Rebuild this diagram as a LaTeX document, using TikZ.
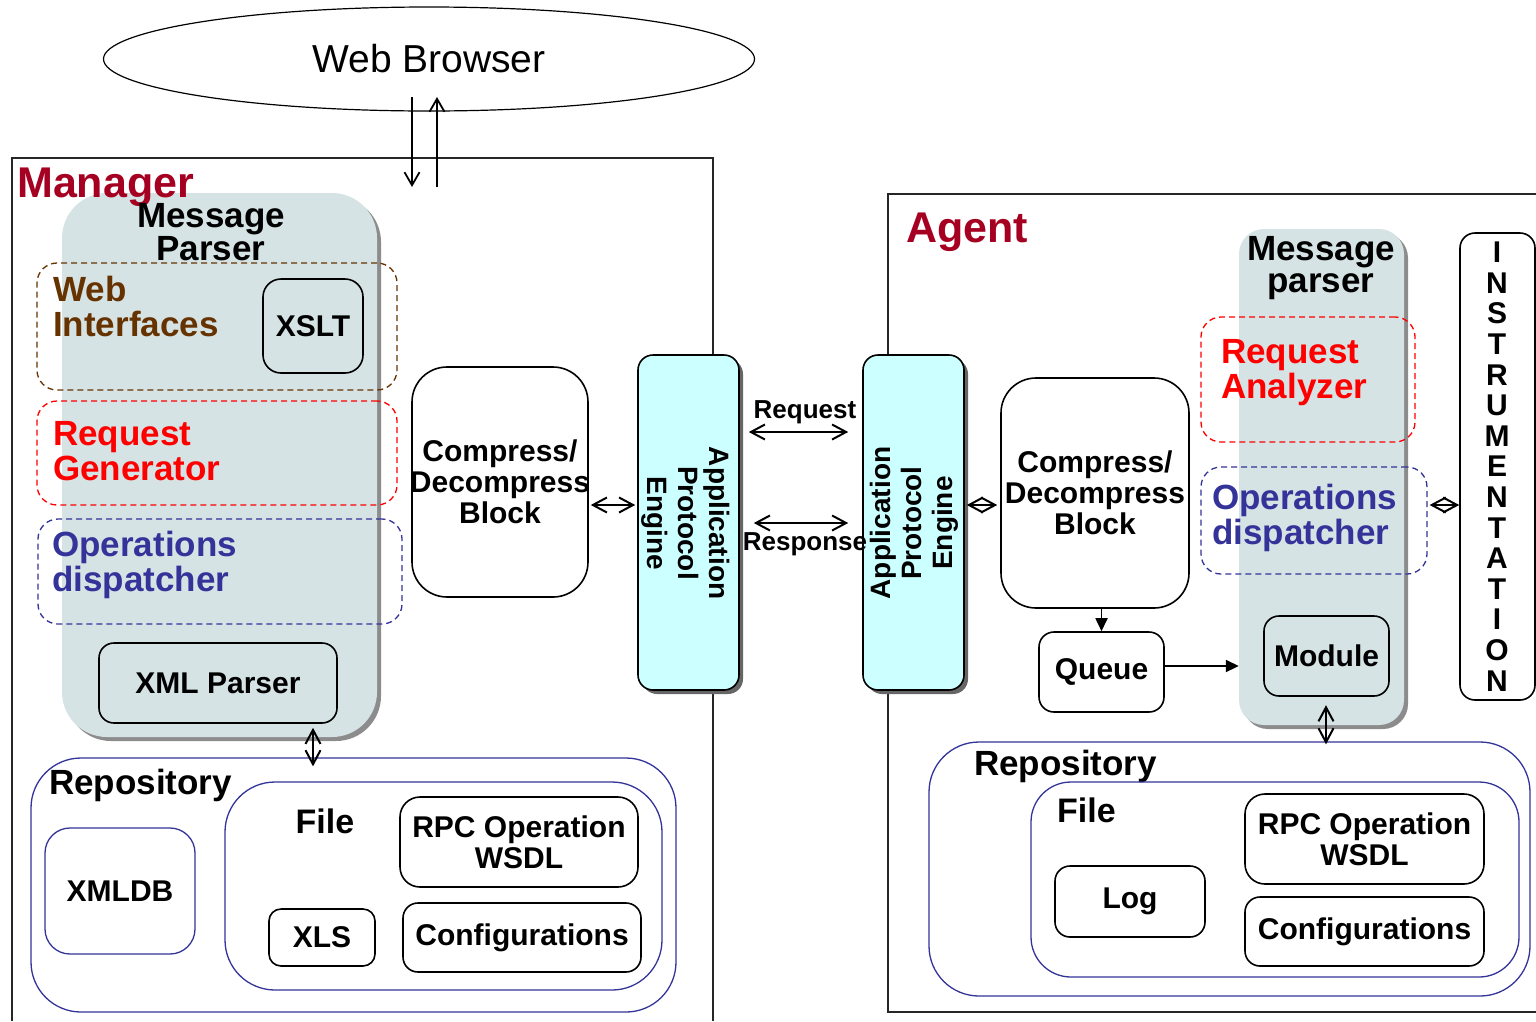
\documentclass[tikz,border=0pt]{standalone}
\usepackage{fontspec}
\setmainfont{Liberation Sans}
\usetikzlibrary{arrows.meta,shapes.geometric,shadows}
\definecolor{titlered}{HTML}{A50021}
\definecolor{ifbrown}{HTML}{663300}
\definecolor{opblue}{HTML}{333399}
\definecolor{parsergray}{HTML}{D5E3E4}
\definecolor{apecyan}{HTML}{CCFFFF}
\newcommand\setfs[2]{\fontsize{#1}{#2}\selectfont}

\begin{document}
\begin{tikzpicture}[x=1pt,y=-1pt,
  every node/.style={inner sep=0pt, font=\bfseries\setfs{30}{31}, align=center},
  frame/.style={draw=black!85, line width=1.6pt},
  box/.style={draw=black, line width=1.6pt, rounded corners=#1},
  box/.default=15pt,
  bluebox/.style={draw=opblue, line width=1.3pt, rounded corners=#1},
  bluebox/.default=25pt,
  dashbox/.style={line width=1.3pt, dash pattern=on 6pt off 4pt, rounded corners=20pt},
  parser/.style={fill=parsergray, rounded corners=#1,
    drop shadow={shadow xshift=4pt, shadow yshift=-4pt, fill=black!45, opacity=1}},
  ape/.style={draw=black, line width=1.6pt, fill=apecyan, rounded corners=15pt,
    drop shadow={shadow xshift=4pt, shadow yshift=-4pt, fill=black!60, opacity=1}},
  sublabel/.style={font=\bfseries\setfs{35}{35}, align=left, anchor=west},
  barb/.tip={Straight Barb[length=14pt,width=15pt,line width=2pt]},
  dbl/.style={line width=1.8pt, barb-barb},
  arr/.style={line width=1.5pt, -{Straight Barb[length=13pt,width=15pt,line width=1.8pt]}},
  tri/.style={line width=1.8pt, -{Triangle[length=13pt,width=12pt]}}
]
\useasboundingbox (0,0) rectangle (1536,1021);

% outer frames of the two sides
\draw[frame] (12,1021) |- (713,158) -- (713,1021);
\draw[frame] (1536,194) -| (888,1012) -- (1536,1012);

% browser
\node[draw, ellipse, line width=1.2pt, minimum width=651pt, minimum height=104pt,
      font=\mdseries\setfs{39}{39}] (wb) at (429,59) {Web Browser};
\coordinate (dnA) at (412,97);  \coordinate (dnB) at (412,187);
\coordinate (upA) at (437,187); \coordinate (upB) at (437,97);
\draw[arr] (dnA) -- (dnB);
\draw[arr] (upA) -- (upB);

% ---------------- Manager ----------------
\node[parser=45pt, minimum width=315pt, minimum height=544pt] (mpM) at (219.5,465) {};
\node[anchor=base west, text=titlered, font=\bfseries\setfs{43}{43}] (mgr) at (17,197) {Manager};
\node[font=\bfseries\setfs{35}{31}] (mpMt) at (211,232) {Message\\Parser};

\node[dashbox, draw=ifbrown, minimum width=360pt, minimum height=127pt] (wiM) at (217,326.5) {};
\node[sublabel, text=ifbrown] (wiMt) at (53,306) {Web\\Interfaces};
\node[box=18pt, minimum width=100pt, minimum height=94pt] (xslt) at (313,326) {XSLT};

\node[dashbox, draw=red, minimum width=360pt, minimum height=104pt] (rgM) at (217,453) {};
\node[sublabel, text=red] (rgMt) at (53,451) {Request\\Generator};

\node[dashbox, draw=opblue, minimum width=364pt, minimum height=105pt] (odM) at (220,571.5) {};
\node[sublabel, text=opblue] (odMt) at (52,565) {Operations\\dispatcher};

\node[box, minimum width=238pt, minimum height=80pt] (xmlp) at (218,683) {XML Parser};

% manager repository
\node[bluebox=50pt, minimum width=645pt, minimum height=254pt] (repoM) at (353.5,885) {};
\node[sublabel] (repoMt) at (49,785) {Repository};
\node[bluebox, minimum width=150pt, minimum height=126pt] (xmldb) at (120,891) {XMLDB};
\node[bluebox=50pt, minimum width=437pt, minimum height=208pt] (fileM) at (443.5,886) {};
\node[font=\bfseries\setfs{34}{34}] (fileMt) at (325,821) {File};
\node[box=20pt, minimum width=238pt, minimum height=90pt] (rpcM) at (519,842) {RPC Operation\\WSDL};
\node[box=12pt, minimum width=106pt, minimum height=57pt] (xls) at (322,937.5) {XLS};
\node[box, minimum width=238pt, minimum height=69pt] (confM) at (522,937.5) {Configurations};

% manager compression and protocol engine
\node[box=35pt, minimum width=176pt, minimum height=230pt] (cmpM) at (500,482) {};
\node (cmpMt) at (cmpM) {Compress/\\Decompress\\Block};
\node[ape, minimum width=101pt, minimum height=335pt] (apeM) at (688.5,522.5) {};
\node[rotate=-90, font=\bfseries\setfs{28}{31}] (apeMt) at (686,523) {Application\\Protocol\\Engine};

% ---------------- Agent ----------------
\node[anchor=base west, text=titlered, font=\bfseries\setfs{43}{43}] (agt) at (906,242) {Agent};

\node[ape, minimum width=101pt, minimum height=335pt] (apeA) at (913.5,522.5) {};
\node[rotate=90, font=\bfseries\setfs{28}{31}] (apeAt) at (914,523) {Application\\Protocol\\Engine};

\node[box=35pt, minimum width=188pt, minimum height=230pt] (cmpA) at (1095,493) {};
\node (cmpAt) at (1095,493) {Compress/\\Decompress\\Block};
\node[box, minimum width=125pt, minimum height=80pt] (queue) at (1101.5,672) {Queue};

\node[parser=25pt, minimum width=165pt, minimum height=496pt] (mpA) at (1321.5,477) {};
\node[font=\bfseries\setfs{35}{32}] (mpAt) at (1321,268) {Message\\parser};

\node[dashbox, draw=red, minimum width=214pt, minimum height=125pt] (raA) at (1308,379.5) {};
\node[sublabel, text=red] (raAt) at (1221,373) {Request\\Analyzer};

\node[dashbox, draw=opblue, minimum width=226pt, minimum height=107pt] (odA) at (1314,520.5) {};
\node[sublabel, text=opblue] (odAt) at (1212,518) {Operations\\dispatcher};

\node[box, minimum width=125pt, minimum height=80pt] (module) at (1326.5,656) {Module};

\node[box, minimum width=75pt, minimum height=467pt] (instr) at (1497.5,466.5) {};
\node[font=\bfseries\setfs{30}{30.6}] (instrt) at (1497,466.5)
  {I\\N\\S\\T\\R\\U\\M\\E\\N\\T\\A\\T\\I\\O\\N};

% agent repository
\node[bluebox=50pt, minimum width=601pt, minimum height=254pt] (repoA) at (1229.5,869) {};
\node[sublabel] (repoAt) at (974,766) {Repository};
\node[bluebox=40pt, minimum width=488pt, minimum height=195pt] (fileA) at (1275,879.5) {};
\node[font=\bfseries\setfs{34}{34}, anchor=west] (fileAt) at (1057,810) {File};
\node[box, minimum width=150pt, minimum height=71pt] (log) at (1130,901.5) {Log};
\node[box=20pt, minimum width=239pt, minimum height=90pt] (rpcA) at (1364.5,839) {RPC Operation\\WSDL};
\node[box, minimum width=239pt, minimum height=69pt] (confA) at (1364.5,931.5) {Configurations};

% ---------------- connectors ----------------
\coordinate (ylink) at (0,505);
\coordinate (yreq) at (0,432);
\coordinate (yresp) at (0,523);
\coordinate (yqueue) at (0,666);
\coordinate (xmgr) at (313,0);
\coordinate (xagt) at (1326,0);

\draw[dbl, shorten <=2pt, shorten >=2pt] (cmpM.east |- ylink) -- (apeM.west |- ylink);
\draw[dbl, shorten <=9pt, shorten >=14pt] (apeM.east |- yreq) -- (apeA.west |- yreq);
\draw[dbl, shorten <=14pt, shorten >=14pt] (apeM.east |- yresp) -- (apeA.west |- yresp);
\node[font=\bfseries\setfs{26}{26}] (reqlbl) at (805,412) {Request};
\node[font=\bfseries\setfs{26}{26}] (resplbl) at (805,544) {Response};

\draw[dbl, shorten <=2pt, shorten >=3pt] (apeA.east |- ylink) -- (cmpA.west |- ylink);
\draw[dbl, shorten <=2pt] (odA.east |- ylink) -- (instr.west |- ylink);
\draw[tri] (queue.north |- cmpA.south) -- (queue.north);
\draw[tri] (queue.east |- yqueue) -- (mpA.west |- yqueue);

\draw[dbl, shorten <=4pt, shorten >=-9pt] (xmlp.south -| xmgr) -- (repoM.north -| xmgr);
\draw[dbl, shorten <=-20pt, shorten >=-3pt] (mpA.south -| xagt) -- (repoA.north -| xagt);
\end{tikzpicture}
\end{document}
